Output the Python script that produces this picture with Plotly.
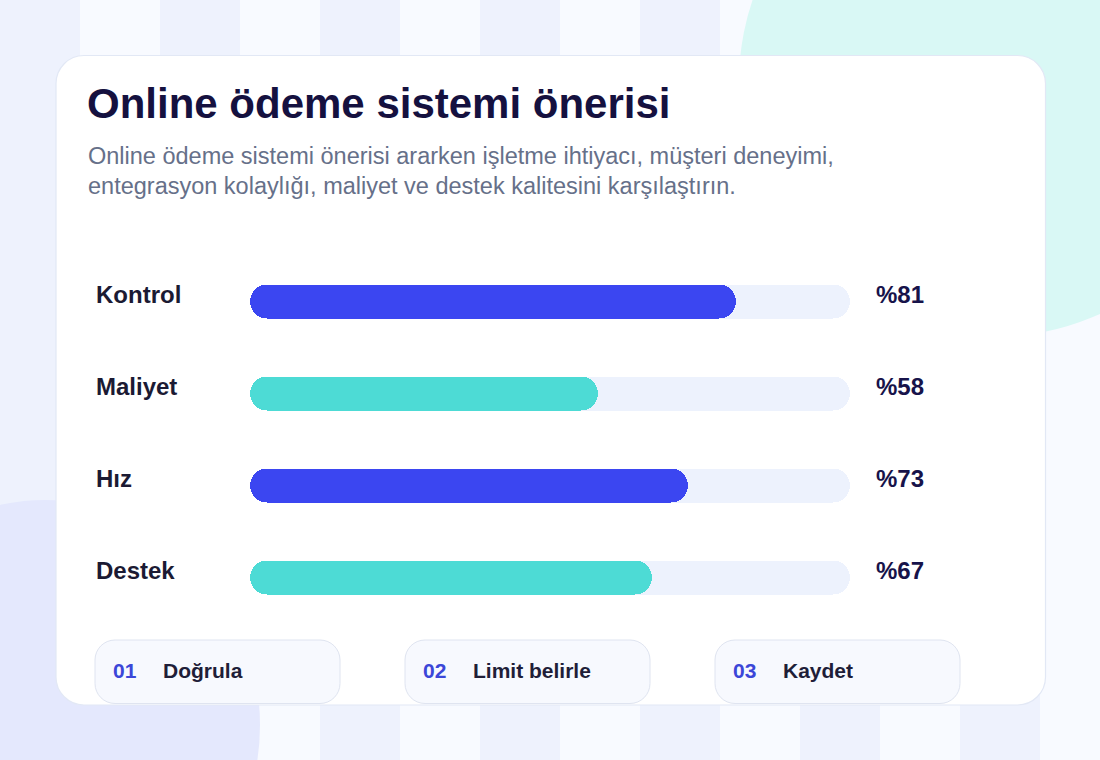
import plotly.graph_objects as go

# ---------------- data ----------------
categories = ["Kontrol", "Maliyet", "Hız", "Destek"]
values = [81, 58, 73, 67]
bar_colors = ["#3b46f1", "#4ddbd5", "#3b46f1", "#4ddbd5"]
track_max = 100

title_text = "Online ödeme sistemi önerisi"
subtitle_lines = [
    "Online ödeme sistemi önerisi ararken işletme ihtiyacı, müşteri deneyimi,",
    "entegrasyon kolaylığı, maliyet ve destek kalitesini karşılaştırın.",
]
step_numbers = ["01", "02", "03"]
step_labels = ["Doğrula", "Limit belirle", "Kaydet"]

# ---------------- layout helpers ----------------
W, H = 1100, 760
FONT = "Liberation Sans, Arial, Helvetica, sans-serif"


def px(x):
    return x / W


def py(y):
    return 1 - y / H


def rrect_path(x0, y0, x1, y1, r):
    k = 0.5523 * r
    pts = []
    pts.append(f"M {px(x0 + r)},{py(y0)}")
    pts.append(f"L {px(x1 - r)},{py(y0)}")
    pts.append(f"C {px(x1 - r + k)},{py(y0)} {px(x1)},{py(y0 + r - k)} {px(x1)},{py(y0 + r)}")
    pts.append(f"L {px(x1)},{py(y1 - r)}")
    pts.append(f"C {px(x1)},{py(y1 - r + k)} {px(x1 - r + k)},{py(y1)} {px(x1 - r)},{py(y1)}")
    pts.append(f"L {px(x0 + r)},{py(y1)}")
    pts.append(f"C {px(x0 + r - k)},{py(y1)} {px(x0)},{py(y1 - r + k)} {px(x0)},{py(y1 - r)}")
    pts.append(f"L {px(x0)},{py(y0 + r)}")
    pts.append(f"C {px(x0)},{py(y0 + r - k)} {px(x0 + r - k)},{py(y0)} {px(x0 + r)},{py(y0)}")
    pts.append("Z")
    return " ".join(pts)


shapes = []
# background stripes
for k in range(14):
    if k % 2 == 1:
        shapes.append(dict(type="rect", xref="paper", yref="paper",
                           x0=px(80 * k), x1=px(80 * k + 80), y0=0, y1=1,
                           fillcolor="#f8faff", line=dict(width=0), layer="below"))
# decorative circles
shapes.append(dict(type="circle", xref="paper", yref="paper",
                   x0=px(994 - 255), x1=px(994 + 255), y0=py(82 + 255), y1=py(82 - 255),
                   fillcolor="#d9f8f5", line=dict(width=0), layer="below"))
shapes.append(dict(type="circle", xref="paper", yref="paper",
                   x0=px(45 - 215), x1=px(45 + 215), y0=py(725 + 225), y1=py(725 - 225),
                   fillcolor="#e4e8fd", line=dict(width=0), layer="below"))
# card
shapes.append(dict(type="path", xref="paper", yref="paper",
                   path=rrect_path(56, 55.5, 1045.5, 705, 28),
                   fillcolor="#ffffff", line=dict(color="#e2e8f5", width=1.2), layer="below"))
# step pills
pill_x0 = [95, 405, 715]
for x0 in pill_x0:
    shapes.append(dict(type="path", xref="paper", yref="paper",
                       path=rrect_path(x0, 640, x0 + 245, 703.5, 20),
                       fillcolor="#f7f9fe", line=dict(color="#dfe4f0", width=1), layer="below"))

fig = go.Figure()

bar_w = 0.37
# track (two overlapping halves, each rounded at its outer end)
fig.add_trace(go.Bar(y=categories, x=[track_max * 0.7] * len(categories),
                     base=[track_max * 0.3] * len(categories), orientation="h",
                     width=bar_w, marker=dict(color="#edf2fd", cornerradius=17, line=dict(width=0)),
                     hoverinfo="skip", showlegend=False))
fig.add_trace(go.Bar(y=categories, x=[-track_max * 0.7] * len(categories),
                     base=[track_max * 0.7] * len(categories), orientation="h",
                     width=bar_w, marker=dict(color="#edf2fd", cornerradius=17, line=dict(width=0)),
                     hoverinfo="skip", showlegend=False))
# value bars
fig.add_trace(go.Bar(y=categories, x=[v * 0.7 for v in values],
                     base=[v * 0.3 for v in values], orientation="h",
                     width=bar_w, marker=dict(color=bar_colors, cornerradius=17, line=dict(width=0)),
                     hoverinfo="skip", showlegend=False))
fig.add_trace(go.Bar(y=categories, x=[-v * 0.7 for v in values],
                     base=[v * 0.7 for v in values], orientation="h",
                     width=bar_w, marker=dict(color=bar_colors, cornerradius=17, line=dict(width=0)),
                     hoverinfo="skip", showlegend=False))

annotations = []
annotations.append(dict(text=title_text, xref="paper", yref="paper", x=px(84.5), y=py(104),
                        xanchor="left", yanchor="middle", showarrow=False,
                        font=dict(family=FONT, size=42, color="#15113f", weight="bold")))
for i, line in enumerate(subtitle_lines):
    annotations.append(dict(text=line, xref="paper", yref="paper", x=px(86), y=py(156 + 29.5 * i),
                            xanchor="left", yanchor="middle", showarrow=False,
                            font=dict(family=FONT, size=23.5, color="#667089")))
for cat, v in zip(categories, values):
    annotations.append(dict(text=cat, xref="paper", yref="y", x=px(94), y=cat, yshift=7,
                            xanchor="left", yanchor="middle", showarrow=False,
                            font=dict(family=FONT, size=24, color="#1b1a33", weight="bold")))
    annotations.append(dict(text=f"%{v}", xref="paper", yref="y", x=px(874), y=cat, yshift=7,
                            xanchor="left", yanchor="middle", showarrow=False,
                            font=dict(family=FONT, size=24, color="#17134a", weight="bold")))
for x0, num, lab in zip(pill_x0, step_numbers, step_labels):
    annotations.append(dict(text=num, xref="paper", yref="paper", x=px(x0 + 16), y=py(670),
                            xanchor="left", yanchor="middle", showarrow=False,
                            font=dict(family=FONT, size=21, color="#3c47d8", weight="bold")))
    annotations.append(dict(text=lab, xref="paper", yref="paper", x=px(x0 + 66), y=py(670),
                            xanchor="left", yanchor="middle", showarrow=False,
                            font=dict(family=FONT, size=21, color="#1f1e38", weight="bold")))

row_top, row_bottom = 255.5, 623.5
fig.update_layout(
    width=W, height=H,
    margin=dict(l=0, r=0, t=0, b=0),
    paper_bgcolor="#eef2fd",
    plot_bgcolor="rgba(0,0,0,0)",
    barmode="overlay",
    bargap=0,
    shapes=shapes,
    annotations=annotations,
    xaxis=dict(domain=[px(250), px(850)], range=[0, track_max], visible=False, fixedrange=True),
    yaxis=dict(domain=[py(row_bottom), py(row_top)], range=[len(categories) - 0.5, -0.5],
               visible=False, fixedrange=True, type="category"),
    hovermode=False,
)

fig.write_html("out.html", config={"displayModeBar": False})
